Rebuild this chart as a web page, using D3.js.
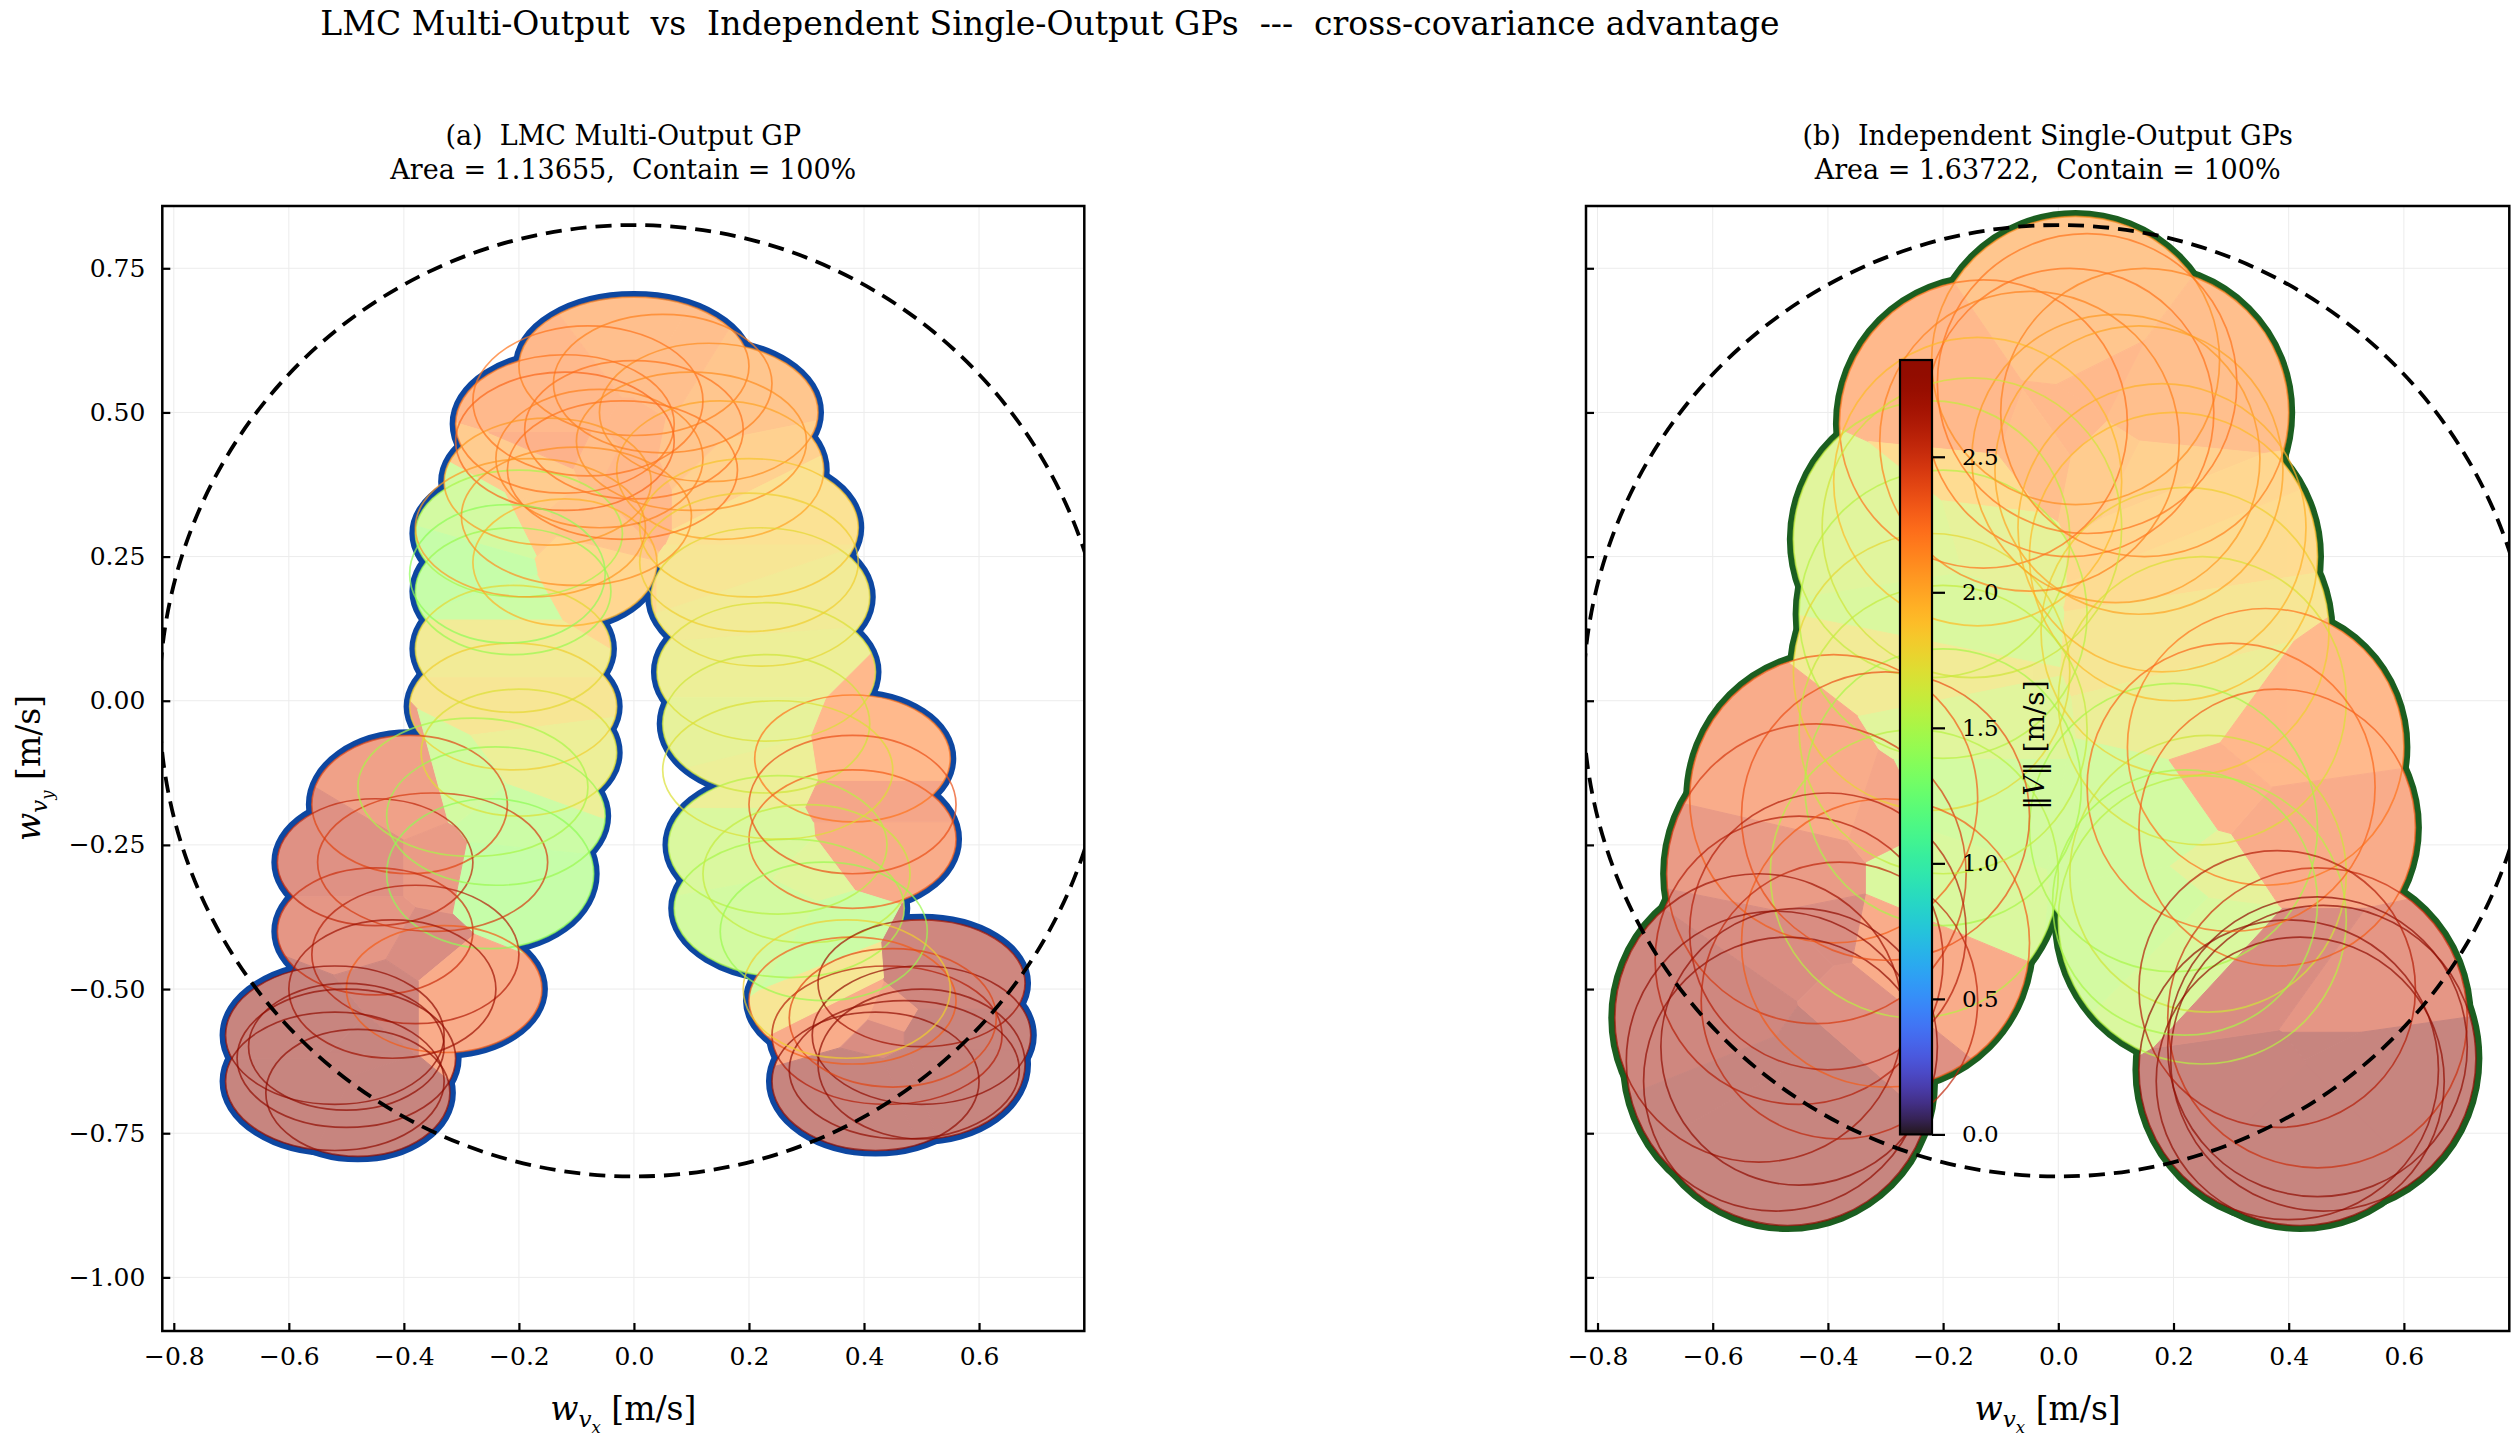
<!DOCTYPE html>
<html>
<head>
<meta charset="utf-8">
<script src="https://cdn.jsdelivr.net/npm/d3@7"></script>
<style>
  body { margin: 0; background: #fff; }
  text { font-family: "DejaVu Serif", serif; fill: #000; white-space: pre; }
</style>
</head>
<body>
<script>
var width = 2514, height = 1441

// (a) LMC multi-output GP: uncertainty ellipses, data units
var lmcCx = [-0.20, -0.21, -0.21, -0.21, -0.20, -0.12, 0.00, 0.13, -0.12, 0.00, -0.06, 0.15, -0.15,
             0.20, 0.22, 0.23, 0.23, 0.38, 0.38, 0.25, 0.27, 0.30,
             -0.39, -0.45, -0.24, -0.25, -0.45, -0.38, -0.33, -0.52, -0.50, -0.52, -0.48,
             0.38, 0.50, 0.44, 0.50, 0.50, 0.42]
var lmcCy = [0.29, 0.19, 0.09, -0.01, -0.09, 0.24, 0.58, 0.50, 0.48, 0.47, 0.42, 0.40, 0.38,
             0.30, 0.18, 0.05, -0.04, -0.10, -0.24, -0.25, -0.36, -0.30,
             -0.18, -0.28, -0.20, -0.30, -0.40, -0.44, -0.50, -0.58, -0.62, -0.66, -0.68,
             -0.52, -0.49, -0.58, -0.58, -0.63, -0.66]
var lmcRx = [0.18, 0.17, 0.17, 0.18, 0.17, 0.16, 0.20, 0.19, 0.19, 0.19, 0.18, 0.18, 0.18,
             0.19, 0.19, 0.19, 0.18, 0.17, 0.18, 0.19, 0.20, 0.18,
             0.17, 0.17, 0.19, 0.18, 0.17, 0.18, 0.17, 0.19, 0.19, 0.19, 0.16,
             0.18, 0.18, 0.20, 0.19, 0.18, 0.18]
var lmcRy = [0.11, 0.11, 0.11, 0.11, 0.11, 0.11, 0.12, 0.12, 0.12, 0.12, 0.12, 0.12, 0.11,
             0.12, 0.12, 0.12, 0.12, 0.11, 0.12, 0.12, 0.12, 0.12,
             0.12, 0.11, 0.12, 0.13, 0.11, 0.12, 0.11, 0.12, 0.12, 0.12, 0.11,
             0.11, 0.11, 0.12, 0.12, 0.13, 0.12]
var lmcSpeed = [1.50, 1.45, 1.75, 1.80, 1.70, 1.95, 2.15, 2.10, 2.20, 2.20, 2.15, 2.00, 2.05,
                1.85, 1.75, 1.70, 1.65, 2.20, 2.30, 1.55, 1.50, 1.60,
                2.40, 2.55, 1.45, 1.40, 2.50, 2.60, 2.30, 2.80, 2.80, 2.85, 2.90,
                2.30, 2.70, 2.60, 2.80, 2.85, 2.90]

// (a) further ellipses drawn only as outlines
var lmcRingCx = [-0.08, 0.05, -0.12, 0.10, -0.02, -0.18, -0.22, -0.10, 0.20, 0.25, 0.33, 0.38,
                 -0.35, -0.28, -0.42, -0.50, 0.45, 0.47, 0.37]
var lmcRingCy = [0.52, 0.55, 0.45, 0.45, 0.40, 0.30, 0.22, 0.32, 0.24, -0.12, -0.40, -0.18,
                 -0.28, -0.15, -0.50, -0.60, -0.55, -0.64, -0.50]
var lmcRingRx = [0.20, 0.19, 0.19, 0.20, 0.20, 0.20, 0.17, 0.20, 0.19, 0.20, 0.18, 0.18,
                 0.20, 0.20, 0.18, 0.17, 0.18, 0.20, 0.18]
var lmcRingRy = [0.13, 0.12, 0.12, 0.12, 0.12, 0.12, 0.12, 0.12, 0.12, 0.12, 0.12, 0.12,
                 0.12, 0.12, 0.12, 0.11, 0.12, 0.12, 0.12]
var lmcRingSpeed = [2.20, 2.15, 2.25, 2.10, 2.20, 2.05, 1.40, 2.10, 1.80, 1.70, 1.45, 2.35,
                    2.45, 1.50, 2.70, 2.90, 2.40, 2.90, 1.80]

// (b) independent single-output GPs: circles, data units
var indCx = [-0.22, -0.20, -0.22, -0.20, -0.25, 0.20, 0.22, 0.25, 0.20, 0.25, 0.26,
             0.03, 0.15, -0.13, 0.02, 0.14, -0.14,
             -0.39, 0.36, 0.38, -0.42, -0.45, -0.30, -0.52, -0.49, -0.47,
             0.45, 0.40, 0.46, 0.42]
var indCy = [0.28, 0.15, 0.05, -0.15, -0.30, 0.25, 0.12, 0.00, -0.22, -0.38, -0.30,
             0.59, 0.50, 0.48, 0.50, 0.40, 0.38,
             -0.17, -0.08, -0.22, -0.30, -0.45, -0.42, -0.55, -0.625, -0.66,
             -0.55, -0.64, -0.62, -0.66]
var indR = [0.24, 0.25, 0.24, 0.24, 0.25, 0.25, 0.25, 0.25, 0.25, 0.25, 0.24,
            0.25, 0.25, 0.25, 0.25, 0.25, 0.25,
            0.25, 0.24, 0.24, 0.26, 0.25, 0.25, 0.25, 0.26, 0.25,
            0.26, 0.26, 0.265, 0.25]
var indSpeed = [1.60, 1.55, 1.75, 1.50, 1.55, 1.90, 1.80, 1.70, 1.50, 1.55, 1.65,
                2.10, 2.15, 2.20, 2.20, 2.00, 1.90,
                2.30, 2.20, 2.30, 2.45, 2.60, 2.30, 2.70, 2.85, 2.90,
                2.50, 2.80, 2.85, 2.90]

// (b) further circles drawn only as outlines
var indRingCx = [0.05, -0.05, 0.10, -0.15, 0.18, -0.30, -0.20, 0.30, 0.22, -0.45, 0.45, 0.38, -0.40, -0.38]
var indRingCy = [0.55, 0.45, 0.42, 0.30, 0.30, -0.20, -0.05, -0.15, -0.35, -0.60, -0.60, -0.50, -0.40, -0.52]
var indRingR = [0.26, 0.26, 0.25, 0.26, 0.25, 0.25, 0.25, 0.25, 0.23, 0.24, 0.26, 0.24, 0.24, 0.24]
var indRingSpeed = [2.20, 2.15, 2.05, 1.65, 1.95, 2.35, 1.60, 2.25, 1.50, 2.90, 2.90, 2.60, 2.60, 2.55]

var xTicks = [-0.8, -0.6, -0.4, -0.2, 0.0, 0.2, 0.4, 0.6]
var yTicks = [0.75, 0.50, 0.25, 0.00, -0.25, -0.50, -0.75, -1.00]
var cbTicks = [0.0, 0.5, 1.0, 1.5, 2.0, 2.5]
var speedMax = 2.857
var ringRadius = 0.825
var panelTitles = ["(a)  LMC Multi-Output GP", "(b)  Independent Single-Output GPs"]
var panelStats = ["Area = 1.13655,  Contain = 100%", "Area = 1.63722,  Contain = 100%"]

var xDomain = [-0.82, 0.783], yDomain = [-1.093, 0.858]
var plotTop = 206, plotBottom = 1331

var svg = d3.select("body").append("svg")
    .attr("width", width)
    .attr("height", height)
var defs = svg.append("defs")

var color = function (v) { return d3.interpolateTurbo(Math.min(v / speedMax, 1)) }

svg.append("text")
    .attr("x", 1050)
    .attr("y", 35)
    .attr("text-anchor", "middle")
    .attr("font-size", 33)
    .text("LMC Multi-Output  vs  Independent Single-Output GPs  ---  cross-covariance advantage")

function mathLabel (sel, sub, size) {
    sel.attr("font-size", size)
    sel.append("tspan").attr("font-style", "italic").text("w")
    sel.append("tspan").attr("font-style", "italic").attr("font-size", size * 0.7)
        .attr("dy", size * 0.22).text("v")
    sel.append("tspan").attr("font-style", "italic").attr("font-size", size * 0.5)
        .attr("dy", size * 0.18).text(sub)
    sel.append("tspan").attr("dy", -size * 0.4).text(" [m/s]")
}

function drawPanel (idx, left, right, shapes, rings, borderColor, borderWidth, showYLabels) {
    var x = d3.scaleLinear().domain(xDomain).range([left, right])
    var y = d3.scaleLinear().domain(yDomain).range([plotBottom, plotTop])
    var g = svg.append("g")

    var ell = function (sel) {
        sel.attr("cx", function (d) { return x(d.cx) })
            .attr("cy", function (d) { return y(d.cy) })
            .attr("rx", function (d) { return x(d.cx + d.rx) - x(d.cx) })
            .attr("ry", function (d) { return y(d.cy) - y(d.cy + d.ry) })
    }

    defs.append("clipPath").attr("id", "frame" + idx)
      .append("rect")
        .attr("x", left).attr("y", plotTop)
        .attr("width", right - left).attr("height", plotBottom - plotTop)
    defs.append("clipPath").attr("id", "union" + idx)
      .selectAll("ellipse").data(shapes).enter().append("ellipse")
        .call(ell)

    // grid
    g.append("g").selectAll("line").data(xTicks).enter().append("line")
        .attr("x1", x).attr("x2", x).attr("y1", plotTop).attr("y2", plotBottom)
        .attr("stroke", "#ececec").attr("stroke-width", 1)
    g.append("g").selectAll("line").data(yTicks).enter().append("line")
        .attr("y1", y).attr("y2", y).attr("x1", left).attr("x2", right)
        .attr("stroke", "#ececec").attr("stroke-width", 1)

    var plot = g.append("g").attr("clip-path", "url(#frame" + idx + ")")

    // union outline: thick strokes, then covered by white fills
    plot.append("g").selectAll("ellipse").data(shapes).enter().append("ellipse")
        .call(ell)
        .attr("fill", borderColor)
        .attr("stroke", borderColor)
        .attr("stroke-width", borderWidth * 2)
    plot.append("g").selectAll("ellipse").data(shapes).enter().append("ellipse")
        .call(ell)
        .attr("fill", "#fff")

    // speed field inside the union: colour of the nearest centre
    var all = shapes.concat(rings)
    var vor = d3.Delaunay.from(all, function (d) { return x(d.cx) }, function (d) { return y(d.cy) })
        .voronoi([left, plotTop, right, plotBottom])
    plot.append("g").attr("clip-path", "url(#union" + idx + ")").attr("opacity", 0.5)
      .selectAll("path").data(all).enter().append("path")
        .attr("d", function (d, i) { return vor.renderCell(i) })
        .attr("fill", function (d) { return color(d.v) })
        .attr("stroke", function (d) { return color(d.v) })
        .attr("stroke-width", 1)

    plot.append("g").selectAll("ellipse").data(all).enter().append("ellipse")
        .call(ell)
        .attr("fill", "none")
        .attr("stroke", function (d) { return color(d.v) })
        .attr("stroke-opacity", 0.7)
        .attr("stroke-width", 1.7)

    plot.append("ellipse")
        .attr("cx", x(0)).attr("cy", y(0))
        .attr("rx", x(ringRadius) - x(0))
        .attr("ry", y(0) - y(ringRadius))
        .attr("fill", "none")
        .attr("stroke", "#000")
        .attr("stroke-width", 3.8)
        .attr("stroke-dasharray", "16,9")

    // axes
    var xAxis = g.append("g")
        .attr("transform", "translate(0," + plotBottom + ")")
        .call(d3.axisBottom(x).tickValues(xTicks).tickSize(-8).tickPadding(16)
            .tickFormat(d3.format(".1f")))
    var yAxis = g.append("g")
        .attr("transform", "translate(" + left + ",0)")
        .call(d3.axisLeft(y).tickValues(yTicks).tickSize(-8).tickPadding(17)
            .tickFormat(showYLabels ? d3.format(".2f") : function () { return "" }))
    ;[xAxis, yAxis].forEach(function (a) {
        a.select(".domain").remove()
        a.selectAll(".tick line").attr("stroke", "#000").attr("stroke-width", 2.2)
        a.selectAll(".tick text").attr("font-size", 25).attr("font-family", "DejaVu Serif")
            .attr("fill", "#000")
    })

    g.append("rect")
        .attr("x", left).attr("y", plotTop)
        .attr("width", right - left).attr("height", plotBottom - plotTop)
        .attr("fill", "none").attr("stroke", "#000").attr("stroke-width", 2.5)

    var cx = (left + right) / 2
    g.append("text").attr("x", cx).attr("y", 145).attr("text-anchor", "middle")
        .attr("font-size", 27).text(panelTitles[idx])
    g.append("text").attr("x", cx).attr("y", 179).attr("text-anchor", "middle")
        .attr("font-size", 27).text(panelStats[idx])

    g.append("text").attr("x", cx).attr("y", 1420).attr("text-anchor", "middle")
        .call(mathLabel, "x", 33)
}

var lmcShapes = lmcCx.map(function (c, i) {
    return {cx: c, cy: lmcCy[i], rx: lmcRx[i], ry: lmcRy[i], v: lmcSpeed[i]}
})
var lmcRings = lmcRingCx.map(function (c, i) {
    return {cx: c, cy: lmcRingCy[i], rx: lmcRingRx[i], ry: lmcRingRy[i], v: lmcRingSpeed[i]}
})
var indShapes = indCx.map(function (c, i) {
    return {cx: c, cy: indCy[i], rx: indR[i], ry: indR[i], v: indSpeed[i]}
})
var indRings = indRingCx.map(function (c, i) {
    return {cx: c, cy: indRingCy[i], rx: indRingR[i], ry: indRingR[i], v: indRingSpeed[i]}
})

drawPanel(0, 162.3, 1084.3, lmcShapes, lmcRings, "#0d47a1", 6, true)
drawPanel(1, 1586, 2509.3, indShapes, indRings, "#1b5e20", 6.5, false)

// y label on the left panel
svg.append("text")
    .attr("transform", "translate(40,768) rotate(-90)")
    .attr("text-anchor", "middle")
    .call(mathLabel, "y", 33)

// colorbar inset
var cbX = 1900, cbW = 32, cbTop = 360, cbBottom = 1134.4
var cb = d3.scaleLinear().domain([0, speedMax]).range([cbBottom, cbTop])
var grad = defs.append("linearGradient")
    .attr("id", "turbo").attr("x1", 0).attr("y1", 1).attr("x2", 0).attr("y2", 0)
grad.selectAll("stop").data(d3.range(0, 1.0001, 0.02)).enter().append("stop")
    .attr("offset", function (t) { return t })
    .attr("stop-color", function (t) { return d3.interpolateTurbo(t) })

svg.append("rect")
    .attr("x", cbX).attr("y", cbTop).attr("width", cbW).attr("height", cbBottom - cbTop)
    .attr("fill", "url(#turbo)").attr("stroke", "#000").attr("stroke-width", 2.2)

var cbAxis = svg.append("g")
    .attr("transform", "translate(" + (cbX + cbW) + ",0)")
    .call(d3.axisRight(cb).tickValues(cbTicks).tickSize(13).tickPadding(17)
        .tickFormat(d3.format(".1f")))
cbAxis.select(".domain").remove()
cbAxis.selectAll(".tick line").attr("stroke", "#000").attr("stroke-width", 2.2)
cbAxis.selectAll(".tick text").attr("font-size", 23).attr("font-family", "DejaVu Serif")
    .attr("fill", "#000")

var cbLabel = svg.append("text")
    .attr("transform", "translate(2044,745) rotate(-90)")
    .attr("text-anchor", "middle")
    .attr("font-size", 28)
cbLabel.append("tspan").text("\u2016")
cbLabel.append("tspan").attr("font-style", "italic").text("V")
cbLabel.append("tspan").text("\u2016 [m/s]")
</script>
</body>
</html>
